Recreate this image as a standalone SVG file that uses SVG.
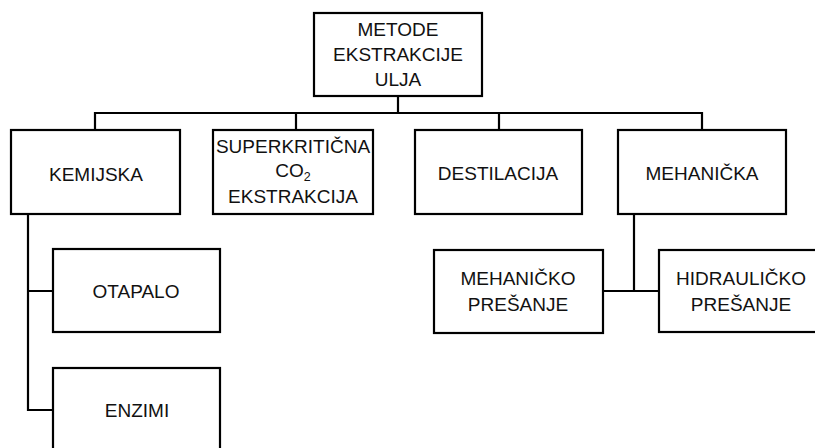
<svg xmlns="http://www.w3.org/2000/svg" width="815" height="448" viewBox="0 0 815 448">
<style>
.box{fill:#fff;stroke:#000;stroke-width:2.2}
.ln{fill:none;stroke:#000;stroke-width:2.2}
text{font-family:"Liberation Sans",Arial,sans-serif;font-size:19px;fill:#111;text-anchor:middle}
</style>
<rect width="815" height="448" fill="#fff"/>
<g id="connectors">
<path class="ln" d="M398 96V113M95 130V113H702V130M296 113V130M499 113V130"/>
<path class="ln" d="M28 214V410H53M28 291H53"/>
<path class="ln" d="M634 214V291M603 291H659"/>
</g>
<g id="root"><rect class="box" x="314" y="13" width="168" height="83"/>
<text x="398" y="36">METODE</text><text x="398" y="61">EKSTRAKCIJE</text><text x="398" y="86">ULJA</text></g>
<g id="kemijska"><rect class="box" x="11" y="130" width="169" height="84"/><text x="96" y="181">KEMIJSKA</text></g>
<g id="superkriticna"><rect class="box" x="213" y="130" width="160" height="84"/>
<text x="293" y="153">SUPERKRITIČNA</text><text x="293" y="177">CO<tspan font-size="12.5" dy="4">2</tspan></text><text x="293" y="203">EKSTRAKCIJA</text></g>
<g id="destilacija"><rect class="box" x="415" y="130" width="167" height="84"/><text x="498" y="180">DESTILACIJA</text></g>
<g id="mehanicka"><rect class="box" x="618" y="130" width="168" height="84"/><text x="702" y="180">MEHANIČKA</text></g>
<g id="otapalo"><rect class="box" x="53" y="249" width="167" height="83"/><text x="136" y="298">OTAPALO</text></g>
<g id="enzimi"><rect class="box" x="53" y="368" width="167" height="90"/><text x="137" y="417">ENZIMI</text></g>
<g id="mehanicko"><rect class="box" x="434" y="250" width="169" height="83"/>
<text x="518" y="285">MEHANIČKO</text><text x="518" y="311">PREŠANJE</text></g>
<g id="hidraulicko"><rect class="box" x="659" y="250" width="170" height="82"/>
<text x="741" y="285">HIDRAULIČKO</text><text x="741" y="311">PREŠANJE</text></g>
</svg>
